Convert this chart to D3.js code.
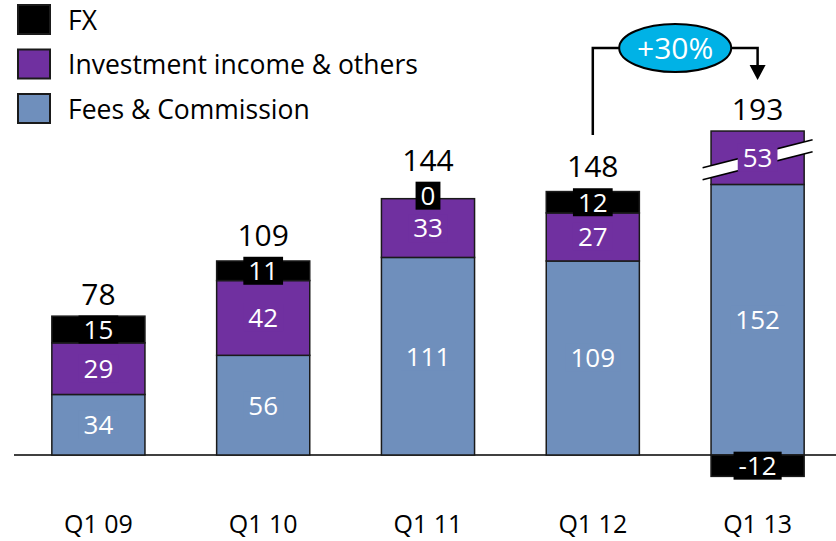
<!DOCTYPE html>
<html>
<head>
<meta charset="utf-8">
<script src="https://cdn.jsdelivr.net/npm/d3@7"></script>
<style>
  body { margin: 0; background: #fff; }
  svg text { font-family: "Open Sans", "DejaVu Sans", sans-serif; }
</style>
</head>
<body>
<div id="chart"></div>
<script>
// Chart data
var quarters = ["Q1 09", "Q1 10", "Q1 11", "Q1 12", "Q1 13"];
var fees = [34, 56, 111, 109, 152];
var invest = [29, 42, 33, 27, 53];
var fx = [15, 11, 0, 12, -12];
var totals = [78, 109, 144, 148, 193];
var growthLabel = "+30%";
var legendLabels = ["FX", "Investment income & others", "Fees & Commission"];

// canvas
var width = 836;
var height = 541;
var baseY = 455;

// the last investment segment is drawn broken (shortened)
var breakIndex = 4;
var breakShown = 30;

var colFees = "#6f8fbc";
var colInvest = "#7030a0";
var colFx = "#000000";
var colEdge = "#1a1a1a";

var svg = d3.select("#chart")
  .append("svg")
  .attr("width", width)
  .attr("height", height);

var xScale = d3.scaleBand()
  .domain(quarters)
  .range([16, 840])
  .paddingInner(0.435)
  .paddingOuter(0.2175);

var yScale = d3.scaleLinear()
  .domain([0, 100])
  .range([baseY, baseY - 178]);

var bw = xScale.bandwidth();

// baseline
svg.append("line")
  .attr("x1", 14).attr("x2", width)
  .attr("y1", baseY).attr("y2", baseY)
  .attr("stroke", "#000").attr("stroke-width", 1.5);

// build segments
var segs = [];
quarters.forEach(function(q, i) {
  var invShown = i === breakIndex ? breakShown : invest[i];
  var s0 = 0, s1 = fees[i];
  segs.push({ q: q, i: i, lo: s0, hi: s1, val: fees[i], fill: colFees, kind: "fees" });
  var s2 = s1 + invShown;
  segs.push({ q: q, i: i, lo: s1, hi: s2, val: invest[i], fill: colInvest, kind: "inv" });
  if (fx[i] >= 0) {
    segs.push({ q: q, i: i, lo: s2, hi: s2 + fx[i], val: fx[i], fill: colFx, kind: "fx" });
  } else {
    segs.push({ q: q, i: i, lo: fx[i], hi: 0, val: fx[i], fill: colFx, kind: "fx" });
  }
});

svg.selectAll("rect.seg")
  .data(segs.filter(function(d) { return d.hi > d.lo; }))
  .enter()
  .append("rect")
  .attr("class", "seg")
  .attr("x", function(d) { return xScale(d.q); })
  .attr("y", function(d) { return yScale(d.hi); })
  .attr("width", bw)
  .attr("height", function(d) { return yScale(d.lo) - yScale(d.hi); })
  .attr("fill", function(d) { return d.fill; })
  .attr("stroke", colEdge)
  .attr("stroke-width", 1.5);

// break marks on the shortened segment
var bx = xScale(quarters[breakIndex]) + bw / 2;
var invSeg = segs.filter(function(d) { return d.i === breakIndex && d.kind === "inv"; })[0];
var by = (yScale(invSeg.lo) + yScale(invSeg.hi)) / 2 + 2;
var half = 55, rise = 14, gap = 6;
svg.append("polygon")
  .attr("points", [
    [bx - half, by + rise - gap], [bx + half, by - rise - gap],
    [bx + half, by - rise + gap], [bx - half, by + rise + gap]
  ].map(function(p) { return p.join(","); }).join(" "))
  .attr("fill", "#fff");
[-gap, gap].forEach(function(o) {
  svg.append("line")
    .attr("x1", bx - half).attr("y1", by + rise + o)
    .attr("x2", bx + half).attr("y2", by - rise + o)
    .attr("stroke", "#000").attr("stroke-width", 1.5);
});

// segment labels
var labelTops = {};
segs.forEach(function(d) {
  var cx = xScale(d.q) + bw / 2;
  var cy = (yScale(d.lo) + yScale(d.hi)) / 2;
  // a zero segment sits just above the bar
  if (d.kind === "fx" && d.val === 0) cy -= 3;
  var g = svg.append("g");
  var box = g.append("rect").attr("fill", d.fill);
  var t = g.append("text")
    .attr("x", cx)
    .attr("y", cy)
    .attr("dy", "0.36em")
    .attr("text-anchor", "middle")
    .attr("fill", "#fff")
    .attr("font-size", 26)
    .text(d.val);
  var tw = t.node().getComputedTextLength();
  box.attr("x", cx - tw / 2 - 5)
    .attr("y", cy - 14)
    .attr("width", tw + 10)
    .attr("height", 28);
  if (d.kind === "fx" && d.val >= 0) labelTops[d.i] = cy - 14;
});

// totals
quarters.forEach(function(q, i) {
  var invShown = i === breakIndex ? breakShown : invest[i];
  var top = yScale(fees[i] + invShown + Math.max(fx[i], 0));
  if (labelTops[i] !== undefined) top = Math.min(top, labelTops[i]);
  svg.append("text")
    .attr("x", xScale(q) + bw / 2)
    .attr("y", top - 11)
    .attr("text-anchor", "middle")
    .attr("fill", "#000")
    .attr("font-size", 30)
    .text(totals[i]);
});

// category labels
svg.selectAll("text.cat")
  .data(quarters)
  .enter()
  .append("text")
  .attr("class", "cat")
  .attr("x", function(d) { return xScale(d) + bw / 2; })
  .attr("y", 533)
  .attr("text-anchor", "middle")
  .attr("font-size", 25)
  .attr("fill", "#000")
  .text(function(d) { return d; });

// growth annotation
var x1 = xScale(quarters[3]) + bw / 2;
var x2 = xScale(quarters[4]) + bw / 2;
var ex = (x1 + x2) / 2, ey = 48, rx = 56, ry = 24;
svg.append("path")
  .attr("d", "M" + x1 + ",135 V" + ey + " H" + (ex - rx) +
    " M" + (ex + rx) + "," + ey + " H" + x2 + " V67")
  .attr("fill", "none")
  .attr("stroke", "#000")
  .attr("stroke-width", 2.5);
svg.append("polygon")
  .attr("points", (x2 - 8) + ",65 " + (x2 + 8) + ",65 " + x2 + ",80")
  .attr("fill", "#000");
svg.append("ellipse")
  .attr("cx", ex).attr("cy", ey)
  .attr("rx", rx).attr("ry", ry)
  .attr("fill", "#00b2e6")
  .attr("stroke", "#000")
  .attr("stroke-width", 2);
svg.append("text")
  .attr("x", ex).attr("y", ey)
  .attr("dy", "0.36em")
  .attr("text-anchor", "middle")
  .attr("fill", "#fff")
  .attr("font-size", 30)
  .text(growthLabel);

// legend
var legendCols = [colFx, colInvest, colFees];
var legend = svg.selectAll("g.leg")
  .data(legendLabels)
  .enter()
  .append("g")
  .attr("class", "leg")
  .attr("transform", function(d, i) { return "translate(18," + (5 + i * 44.5) + ")"; });
legend.append("rect")
  .attr("width", 32).attr("height", 29)
  .attr("fill", function(d, i) { return legendCols[i]; })
  .attr("stroke", colEdge)
  .attr("stroke-width", 2);
legend.append("text")
  .attr("x", 50)
  .attr("y", 15)
  .attr("dy", "0.36em")
  .attr("font-size", 26.5)
  .attr("fill", "#000")
  .text(function(d) { return d; });
</script>
</body>
</html>
